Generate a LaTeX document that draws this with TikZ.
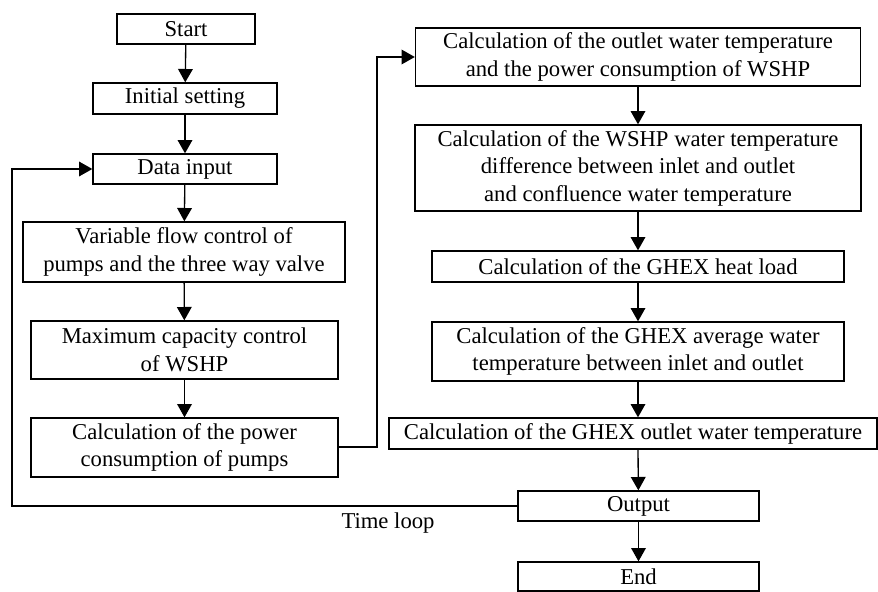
\documentclass[tikz,border=0pt]{standalone}
\usepackage{fontspec}
\setmainfont{Liberation Serif}
\usepackage{tikz}
\usetikzlibrary{arrows.meta}
\tikzset{every picture/.style={line width=1pt}}
\tikzset{flowbox/.style 2 args={draw, rectangle, inner sep=0pt, align=center, font=\fontsize{17}{20.6}\selectfont,
		minimum width=#1*0.75pt, minimum height=#2*0.75pt},
	flowarrow/.style={-{Triangle[width=11pt,length=10pt]}}}

\begin{document}
\begin{tikzpicture}[x=0.75pt,y=0.75pt,yscale=-1,xscale=1]
		\useasboundingbox (0,0) rectangle (878,592);
		
		% Left column
		\node[flowbox={138}{30}] (start) at (186,29) {Start};
		\node[flowbox={184}{31}] (init) at (185,98.5) {Initial setting};
		\node[flowbox={184}{30}] (input) at (185,169) {Data input};
		\node[flowbox={322}{60}] (flow) at (184,252) {Variable flow control of\\pumps and the three way valve};
		\node[flowbox={307}{58}] (capa) at (184.5,350) {Maximum capacity control\\of WSHP};
		\node[flowbox={307}{59}] (pumps) at (184.5,447.5) {Calculation of the power\\consumption of pumps};
		
		% Right column
		\node[flowbox={445}{58}] (wshp) at (638,57) {Calculation of the outlet water temperature\\and the power consumption of WSHP};
		\node[flowbox={446}{86}] (diff) at (638,168) {Calculation of the WSHP water temperature\\difference between inlet and outlet\\and confluence water temperature};
		\node[flowbox={412}{31}] (load) at (638,266.5) {Calculation of the GHEX heat load};
		\node[flowbox={412}{59}] (avg) at (638,351.5) {Calculation of the GHEX average water\\temperature between inlet and outlet};
		\node[flowbox={488}{31}] (ghexout) at (633,433.5) {Calculation of the GHEX outlet water temperature};
		\node[flowbox={241}{30}] (output) at (638.5,506) {Output};
		\node[flowbox={241}{29}] (end) at (638.5,576.5) {End};
		
		% Text Node
		\node[font=\fontsize{17}{20.6}\selectfont] (timeloop) at (388,523) {Time loop};
		
		% Loop corners
		\coordinate (loopcorner) at (12,506);
		\coordinate (jumpcorner) at (377,447);
		
		% Arrows
		\draw[flowarrow] (start) -- (init);
		\draw[flowarrow] (init) -- (input);
		\draw[flowarrow] (input) -- (flow);
		\draw[flowarrow] (flow) -- (capa);
		\draw[flowarrow] (capa) -- (pumps);
		\draw[flowarrow] (pumps.east |- jumpcorner) -- (jumpcorner) |- (wshp.west);
		\draw[flowarrow] (wshp) -- (diff);
		\draw[flowarrow] (diff) -- (load);
		\draw[flowarrow] (load.south -| avg.north) -- (avg);
		\draw[flowarrow] (avg.south) -- (avg.south |- ghexout.north);
		\draw[flowarrow] (avg.south |- ghexout.south) -- (output);
		\draw[flowarrow] (output) -- (end);
		\draw[flowarrow] (output.west) -- (loopcorner) |- (input.west);
		
		\end{tikzpicture}
\end{document}
